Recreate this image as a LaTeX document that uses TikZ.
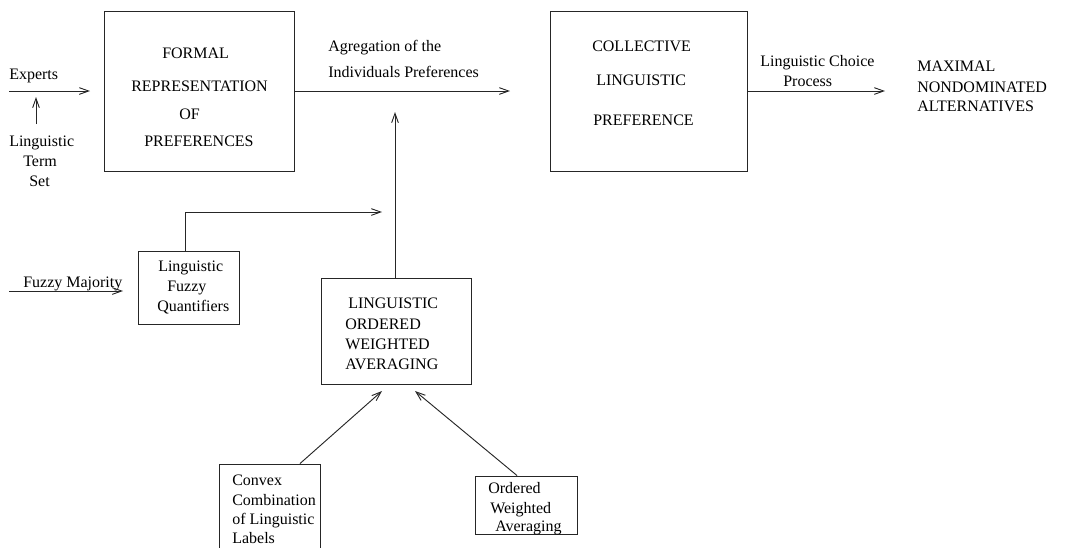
\documentclass[tikz,border=0pt]{standalone}
\usepackage{fontspec}
\setmainfont{Liberation Serif}
\usetikzlibrary{fit,arrows.meta}
\tikzset{
  box/.style={draw=black!85, line width=0.7pt, inner sep=0pt},
  txt/.style={anchor=base west, inner sep=0pt, font=\fontsize{12}{14}\selectfont},
  arr/.style={draw=black!85, line width=0.7pt, -{Straight Barb[length=7pt,width=5pt]}},
  ln/.style={draw=black!85, line width=0.7pt}
}
\begin{document}
\begin{tikzpicture}[x=0.75pt,y=-0.75pt]
\useasboundingbox (0,0) rectangle (1070,547);
\clip (0,0) rectangle (1070,547);
% boxes
\node[box, fit={(104,11) (294,171)}] (formal) {};
\node[box, fit={(550,11) (747,171)}] (coll) {};
\node[box, fit={(138,251) (239,324)}] (lfq) {};
\node[box, fit={(321,278) (471,384)}] (lowa) {};
\node[box, fit={(219,464) (320,570)}] (convex) {};
\node[box, fit={(475,476) (577,534)}] (owa) {};
% texts
\node[txt] (f1) at (162,58) {FORMAL};
\node[txt] (f2) at (131,91) {REPRESENTATION};
\node[txt] (f3) at (179,119) {OF};
\node[txt] (f4) at (144,146) {PREFERENCES};
\node[txt] (exp) at (9,79) {Experts};
\node[txt] (lt1) at (9,146) {Linguistic};
\node[txt] (lt2) at (23,166) {Term};
\node[txt] (lt3) at (29,186) {Set};
\node[txt] (ag1) at (328,51) {Agregation of the};
\node[txt] (ag2) at (328,77) {Individuals Preferences};
\node[txt] (c1) at (592,51) {COLLECTIVE};
\node[txt] (c2) at (596,85) {LINGUISTIC};
\node[txt] (c3) at (593,125) {PREFERENCE};
\node[txt] (lc1) at (760,66) {Linguistic Choice};
\node[txt] (lc2) at (783,86) {Process};
\node[txt] (m1) at (917,71) {MAXIMAL};
\node[txt] (m2) at (917,92) {NONDOMINATED};
\node[txt] (m3) at (917,111) {ALTERNATIVES};
\node[txt] (fm) at (23,287) {Fuzzy Majority};
\node[txt] (q1) at (158,271) {Linguistic};
\node[txt] (q2) at (167,291) {Fuzzy};
\node[txt] (q3) at (157,311) {Quantifiers};
\node[txt] (o1) at (348,308) {LINGUISTIC};
\node[txt] (o2) at (345,329) {ORDERED};
\node[txt] (o3) at (345,349) {WEIGHTED};
\node[txt] (o4) at (345,369) {AVERAGING};
\node[txt] (cv1) at (232,485) {Convex};
\node[txt] (cv2) at (232,505) {Combination};
\node[txt] (cv3) at (232,524) {of Linguistic};
\node[txt] (cv4) at (232,543) {Labels};
\node[txt] (w1) at (488,493) {Ordered};
\node[txt] (w2) at (490,513) {Weighted};
\node[txt] (w3) at (495,531) {Averaging};
% free ends
\coordinate (expS) at (9,91);
\coordinate (expE) at (90,91);
\coordinate (ltS) at (36,124);
\coordinate (ltE) at (36,97);
\coordinate (aggE) at (510,91);
\coordinate (choiceE) at (885,91);
\coordinate (vtip) at (395,112);
\coordinate (qx) at (185,212);
\coordinate (qend) at (382,212);
\coordinate (fmS) at (9,291);
\coordinate (fmE) at (123,291);
\coordinate (cvx) at (300,464);
\coordinate (t1) at (382,391);
\coordinate (owx) at (517,476);
\coordinate (t2) at (415,391);
% connectors
\draw[arr] (expS) -- (expE);
\draw[arr] (ltS) -- (ltE);
\draw[arr] (formal.east) -- (aggE);
\draw[arr] (coll.east) -- (choiceE);
\draw[arr] (lowa.north -| vtip) -- (vtip);
\draw[arr] (lfq.north -| qx) |- (qend);
\draw[arr] (fmS) -- (fmE);
\draw[arr] (convex.north -| cvx) -- (t1);
\draw[arr] (owa.north -| owx) -- (t2);
\end{tikzpicture}
\end{document}
